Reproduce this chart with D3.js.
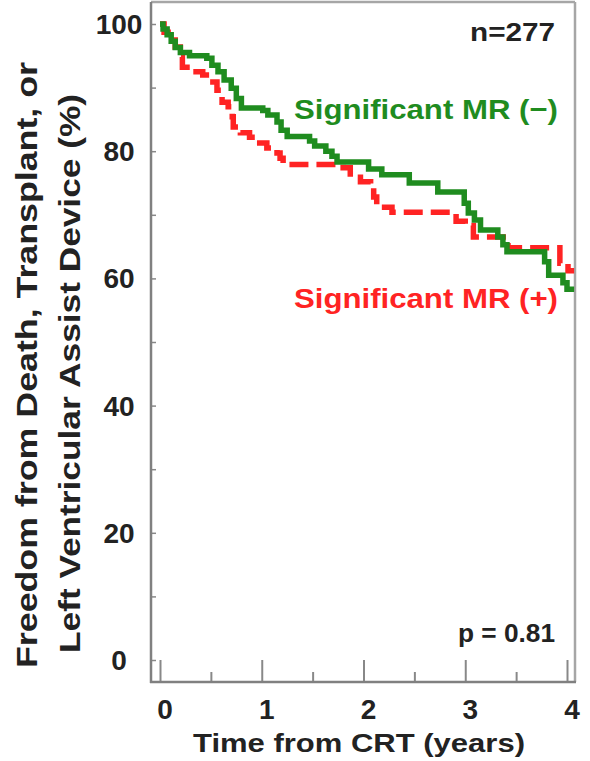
<!DOCTYPE html>
<html>
<head>
<meta charset="utf-8">
<script src="https://cdn.jsdelivr.net/npm/d3@7"></script>
<style>
  body { margin: 0; background: #fff; }
  svg { display: block; }
  text { font-family: "Liberation Sans", Arial, Helvetica, sans-serif; font-weight: bold; }
</style>
</head>
<body>
<svg id="chart" width="590" height="761"></svg>
<script>
// Kaplan–Meier estimates: years after CRT and event-free percentage (step after each time)
const mrNegTime = [0, 0.03, 0.07, 0.11, 0.15, 0.20, 0.29, 0.46, 0.51, 0.57, 0.63, 0.70, 0.75, 0.80,
  1.01, 1.06, 1.15, 1.19, 1.25, 1.47, 1.52, 1.63, 1.69, 1.74, 2.05, 2.18, 2.45, 2.73, 2.99, 3.03,
  3.09, 3.15, 3.32, 3.37, 3.41, 3.78, 3.82, 3.96, 4.00, 4.07];
const mrNegSurv = [100, 99.2, 98.3, 97.3, 96.3, 95.5, 95.0, 94.6, 93.5, 92.5, 91.2, 89.9, 88.3, 86.8,
  86.4, 85.7, 84.6, 83.3, 82.3, 81.6, 80.8, 80.0, 79.2, 78.3, 77.2, 76.3, 75.0, 73.6, 71.8, 70.3,
  69.2, 67.6, 66.5, 65.3, 64.2, 62.6, 60.5, 59.3, 58.3, 58.3];

const mrPosTime = [0, 0.04, 0.08, 0.15, 0.20, 0.22, 0.30, 0.42, 0.49, 0.56, 0.61, 0.67, 0.71, 0.72,
  0.79, 0.88, 0.98, 1.05, 1.15, 1.18, 1.21, 1.80, 1.87, 1.97, 2.07, 2.10, 2.13, 2.28, 2.91, 3.00,
  3.08, 3.42, 3.93, 4.01, 4.07];
const mrPosSurv = [100, 98.7, 97.5, 96.4, 94.8, 93.2, 92.5, 92.0, 90.9, 89.6, 87.7, 87.0, 85.4, 83.8,
  82.9, 82.2, 81.3, 80.5, 79.7, 78.9, 77.9, 77.4, 75.9, 75.2, 74.6, 72.8, 71.2, 70.4, 69.0, 68.3,
  66.5, 64.8, 62.4, 61.2, 61.2];

const xTicks = [0, 1, 2, 3, 4];
const xMinorTicks = [0.5, 1.5, 2.5, 3.5];
const yTicks = [0, 20, 40, 60, 80, 100];
const yMinorTicks = [10, 30, 50, 70, 90];

const seriesLabels = ["Significant MR (\u2212)", "Significant MR (+)"];
const seriesColors = ["#1f8c1f", "#ff2323"];
const sampleLabel = "n=277";
const pLabel = "p = 0.81";
const xTitle = "Time from CRT (years)";
const yTitleLines = ["Freedom from Death, Transplant, or", "Left Ventricular Assist Device (%)"];

const svg = d3.select("#chart");

// plot frame and scales
const frame = { left: 151, right: 575, top: 2, bottom: 682 };
const x = d3.scaleLinear().domain([0, 4]).range([160, 567]);
const y = d3.scaleLinear().domain([0, 100]).range([660, 24]);

// text stretched to a set length
function fitText(parent, str, x0, yBase, len, size, color) {
  return parent.append("text")
    .attr("x", x0).attr("y", yBase)
    .attr("font-size", size)
    .attr("textLength", len)
    .attr("lengthAdjust", "spacingAndGlyphs")
    .attr("fill", color)
    .text(str);
}

// frame: top and right light, left and bottom axis lines darker
svg.append("line").attr("x1", frame.left).attr("x2", frame.right).attr("y1", frame.top).attr("y2", frame.top)
  .attr("stroke", "#a6a6a6").attr("stroke-width", 2.5);
svg.append("line").attr("x1", frame.right).attr("x2", frame.right).attr("y1", frame.top).attr("y2", frame.bottom)
  .attr("stroke", "#a6a6a6").attr("stroke-width", 2.5);

// y axis: inward ticks
const yAxis = d3.axisRight(y).tickValues(yTicks.concat(yMinorTicks)).tickSize(5).tickFormat("");
const gy = svg.append("g").attr("transform", `translate(${frame.left},0)`).call(yAxis);
gy.select(".domain").remove();
gy.selectAll(".tick line").attr("stroke", "#888").attr("stroke-width", 1.5);
svg.append("line").attr("x1", frame.left).attr("x2", frame.left).attr("y1", frame.top).attr("y2", frame.bottom + 1)
  .attr("stroke", "#808080").attr("stroke-width", 2.5);

// y tick labels
svg.append("g").selectAll("text").data(yTicks).join("text")
  .attr("x", 119).attr("y", d => y(d) + 10)
  .attr("text-anchor", "middle")
  .attr("font-size", 28).attr("fill", "#222")
  .text(d => d);

// x axis: ticks point up into the plot
const xAxis = d3.axisTop(x).tickValues(xTicks).tickSize(22).tickFormat("");
const gx = svg.append("g").attr("transform", `translate(0,${frame.bottom})`).call(xAxis);
gx.select(".domain").remove();
gx.selectAll(".tick line").attr("stroke", "#888").attr("stroke-width", 2);
const xAxisMinor = d3.axisTop(x).tickValues(xMinorTicks).tickSize(10).tickFormat("");
const gxm = svg.append("g").attr("transform", `translate(0,${frame.bottom})`).call(xAxisMinor);
gxm.select(".domain").remove();
gxm.selectAll(".tick line").attr("stroke", "#888").attr("stroke-width", 2);
svg.append("line").attr("x1", frame.left - 1).attr("x2", frame.right + 1).attr("y1", frame.bottom).attr("y2", frame.bottom)
  .attr("stroke", "#808080").attr("stroke-width", 2.5);

// x tick labels
svg.append("g").selectAll("text").data(xTicks).join("text")
  .attr("x", d => x(d) + 5).attr("y", 719)
  .attr("text-anchor", "middle")
  .attr("font-size", 28).attr("fill", "#222")
  .text(d => d);

// axis titles
fitText(svg, xTitle, 193, 752, 332, 26, "#222");
yTitleLines.forEach((line, i) => {
  const spec = [{ bx: 37, cy: 365, len: 606 }, { bx: 80, cy: 373.5, len: 559 }][i];
  const g = svg.append("g").attr("transform", `translate(${spec.bx},${spec.cy}) rotate(-90)`);
  fitText(g, line, -spec.len / 2, 0, spec.len, 30, "#222");
});

// survival curves
const stepLine = d3.line()
  .x(d => x(d[0]))
  .y(d => y(d[1]))
  .curve(d3.curveStepAfter);

const posData = d3.zip(mrPosTime, mrPosSurv);
const negData = d3.zip(mrNegTime, mrNegSurv);

svg.append("path").datum(posData)
  .attr("d", stepLine)
  .attr("fill", "none")
  .attr("stroke", seriesColors[1])
  .attr("stroke-width", 5.5)
  .attr("stroke-dasharray", "19,8");

svg.append("path").datum(negData)
  .attr("d", stepLine)
  .attr("fill", "none")
  .attr("stroke", seriesColors[0])
  .attr("stroke-width", 5.5);

// series labels and annotations
fitText(svg, seriesLabels[0], 294, 119, 264, 28, seriesColors[0]);
fitText(svg, seriesLabels[1], 294, 308, 264, 28, seriesColors[1]);
fitText(svg, sampleLabel, 470, 41, 85, 26, "#222");
fitText(svg, pLabel, 458, 642, 97, 25, "#222");
</script>
</body>
</html>
